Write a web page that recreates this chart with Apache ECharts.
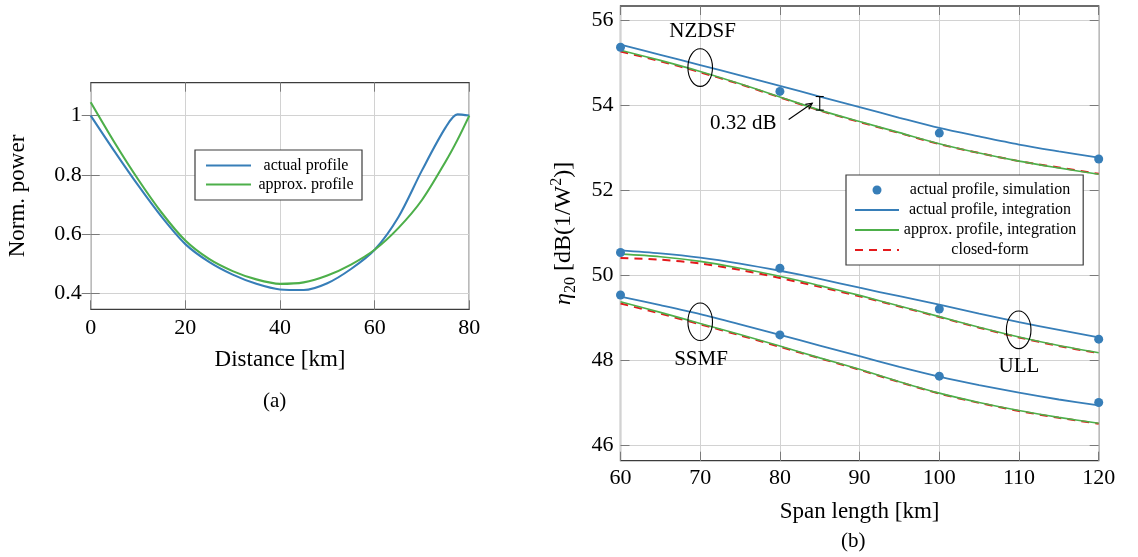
<!DOCTYPE html>
<html><head><meta charset="utf-8">
<script src="https://cdn.jsdelivr.net/npm/echarts@6/dist/echarts.min.js"></script>
<style>html,body{margin:0;padding:0;background:#fff}#c{width:1138px;height:557px}</style>
</head><body><div id="c"></div>
<script>
// ---------- (a) power profile ----------
const distKm        = [0, 5, 10, 15, 20, 25, 30, 35, 40, 45, 50, 55, 60, 65, 70, 75, 77.5, 80];
const actualProfile = [1.000, 0.880, 0.765, 0.658, 0.566, 0.506, 0.463, 0.432, 0.413, 0.411, 0.434, 0.482, 0.547, 0.657, 0.815, 0.960, 1.004, 1.000];
const approxProfile = [1.045, 0.910, 0.785, 0.672, 0.578, 0.516, 0.475, 0.447, 0.432, 0.437, 0.460, 0.497, 0.547, 0.620, 0.715, 0.845, 0.918, 1.000];
const powerTicks = [0.4, 0.6, 0.8, 1];

// ---------- (b) eta20 vs span length ----------
const spanKm = [60, 65, 70, 75, 80, 85, 90, 95, 100, 105, 110, 115, 120];
const simKm  = [60, 80, 100, 120];
const nzdsfActualInt  = [55.42, 55.18, 54.94, 54.70, 54.45, 54.20, 53.95, 53.70, 53.46, 53.26, 53.07, 52.91, 52.76];
const nzdsfApproxInt  = [55.29, 55.05, 54.79, 54.50, 54.19, 53.88, 53.61, 53.35, 53.09, 52.87, 52.68, 52.52, 52.37];
const nzdsfClosedForm = [55.26, 55.03, 54.77, 54.49, 54.18, 53.87, 53.60, 53.34, 53.08, 52.87, 52.68, 52.53, 52.38];
const nzdsfSim        = [55.36, 54.32, 53.34, 52.73];
const ullActualInt    = [50.58, 50.51, 50.41, 50.27, 50.10, 49.91, 49.70, 49.50, 49.30, 49.09, 48.89, 48.71, 48.53];
const ullApproxInt    = [50.49, 50.43, 50.32, 50.16, 49.97, 49.75, 49.52, 49.27, 49.02, 48.77, 48.54, 48.34, 48.17];
const ullClosedForm   = [50.40, 50.36, 50.27, 50.12, 49.93, 49.72, 49.50, 49.26, 49.01, 48.76, 48.53, 48.33, 48.16];
const ullSim          = [50.53, 50.16, 49.20, 48.49];
const ssmfActualInt   = [49.49, 49.29, 49.08, 48.84, 48.59, 48.34, 48.09, 47.84, 47.61, 47.41, 47.23, 47.07, 46.93];
const ssmfApproxInt   = [49.37, 49.12, 48.86, 48.60, 48.33, 48.05, 47.78, 47.49, 47.22, 47.00, 46.81, 46.65, 46.51];
const ssmfClosedForm  = [49.33, 49.09, 48.84, 48.58, 48.31, 48.04, 47.77, 47.48, 47.21, 46.99, 46.80, 46.64, 46.50];
const ssmfSim         = [49.53, 48.59, 47.62, 47.00];
const etaTicks = [46, 48, 50, 52, 54, 56];

// annotations (data coordinates)
const fiberNames     = ['NZDSF', 'SSMF', 'ULL'];
const fiberLabelAt   = [[70.3, 55.72], [70.1, 48.02], [110, 47.84]];
const ellipseAt      = [[70, 54.88], [70, 48.90], [109.96, 48.71]];
const gapNoteText    = '0.32 dB';
const gapNoteAt      = [75.4, 53.57];
const gapArrowFrom   = [81.1, 53.66];
const gapArrowTo     = [84.06, 54.04];
const gapBarKm       = 85;

const FONT = 'Liberation Serif';
const BLUE = '#377eb8', GREEN = '#4daf4a', RED = '#e41a1c';
const zip = (xs, ys) => xs.map((x, i) => [x, ys[i]]);

const chart = echarts.init(document.getElementById('c'), null, {renderer: 'canvas'});

function baseAxis(extra) {
  return Object.assign({
    type: 'value',
    axisLine: {show: false},
    axisTick: {show: true, inside: true, length: 9, lineStyle: {color: '#7a7a7a', width: 1}},
    axisLabel: {show: true, color: '#000', fontFamily: FONT, fontSize: 22},
    splitLine: {show: false}
  }, extra);
}
function tickOnly(extra) {
  const a = baseAxis(extra);
  a.axisLabel = {show: false};
  a.splitLine = {show: false};
  return a;
}
const gridLine = {show: true, lineStyle: {color: '#d2d2d2', width: 1}};

const lineS = (name, xi, yi, data, color, width, extra) => Object.assign({
  type: 'line', name, xAxisIndex: xi, yAxisIndex: yi, data,
  smooth: 0.3, symbol: 'none', showSymbol: false,
  lineStyle: {color, width}, itemStyle: {color}, silent: true
}, extra || {});

const series = [
  lineS('actual profile', 0, 0, zip(distKm, actualProfile), BLUE, 2.1, {z: 3}),
  lineS('approx. profile', 0, 0, zip(distKm, approxProfile), GREEN, 2.1, {z: 4}),
];

const fibers = [
  [nzdsfActualInt, nzdsfApproxInt, nzdsfClosedForm, nzdsfSim],
  [ullActualInt, ullApproxInt, ullClosedForm, ullSim],
  [ssmfActualInt, ssmfApproxInt, ssmfClosedForm, ssmfSim]
];
fibers.forEach(f => {
  series.push(lineS('actual profile, integration', 2, 2, zip(spanKm, f[0]), BLUE, 1.8, {z: 3}));
  series.push(lineS('closed-form', 2, 2, zip(spanKm, f[2]), RED, 2, {z: 4, lineStyle: {color: RED, width: 2, type: [8, 6]}}));
  series.push(lineS('approx. profile, integration', 2, 2, zip(spanKm, f[1]), GREEN, 1.6, {z: 5}));
});
fibers.forEach(f => {
  series.push({type: 'scatter', name: 'actual profile, simulation', xAxisIndex: 2, yAxisIndex: 2,
    data: zip(simKm, f[3]), symbol: 'circle', symbolSize: 9, symbolKeepAspect: true,
    itemStyle: {color: BLUE, opacity: 1}, z: 10, silent: true});
});

// ellipses
series.push({type: 'custom', name: 'ellipses', xAxisIndex: 2, yAxisIndex: 2, z: 12, silent: true,
  data: ellipseAt,
  renderItem: (params, api) => {
    const p = api.coord([api.value(0), api.value(1)]);
    return {type: 'ellipse', shape: {cx: p[0], cy: p[1], rx: 12.3, ry: 18.8},
      style: {fill: 'none', stroke: '#000', lineWidth: 1.1}};
  }});
// fiber labels
series.push({type: 'custom', name: 'fiberLabels', xAxisIndex: 2, yAxisIndex: 2, z: 12, silent: true,
  data: fiberLabelAt,
  renderItem: (params, api) => {
    const p = api.coord([api.value(0), api.value(1)]);
    return {type: 'text', x: p[0], y: p[1],
      style: {text: fiberNames[params.dataIndex], fontFamily: FONT, fontSize: 21, fill: '#000', align: 'center', verticalAlign: 'middle'}};
  }});
// 0.32 dB note
const barIdx = spanKm.indexOf(gapBarKm);
series.push({type: 'custom', name: 'gapNote', xAxisIndex: 2, yAxisIndex: 2, z: 12, silent: true,
  data: [gapNoteAt],
  renderItem: (params, api) => {
    const t = api.coord(gapNoteAt);
    const a0 = api.coord(gapArrowFrom), a1 = api.coord(gapArrowTo);
    const b0 = api.coord([gapBarKm, nzdsfActualInt[barIdx]]), b1 = api.coord([gapBarKm, nzdsfApproxInt[barIdx]]);
    const ang = Math.atan2(a1[1] - a0[1], a1[0] - a0[0]);
    const hl = 7, hw = 0.45;
    const h1 = [a1[0] - hl * Math.cos(ang - hw), a1[1] - hl * Math.sin(ang - hw)];
    const h2 = [a1[0] - hl * Math.cos(ang + hw), a1[1] - hl * Math.sin(ang + hw)];
    const st = {stroke: '#000', lineWidth: 1.1, fill: 'none'};
    return {type: 'group', children: [
      {type: 'text', x: t[0], y: t[1], style: {text: gapNoteText, fontFamily: FONT, fontSize: 21, fill: '#000', align: 'center', verticalAlign: 'middle'}},
      {type: 'line', shape: {x1: a0[0], y1: a0[1], x2: a1[0], y2: a1[1]}, style: st},
      {type: 'polyline', shape: {points: [h1, a1, h2]}, style: st},
      {type: 'line', shape: {x1: b0[0], y1: b0[1], x2: b1[0], y2: b1[1]}, style: st},
      {type: 'line', shape: {x1: b0[0] - 4, y1: b0[1], x2: b0[0] + 4, y2: b0[1]}, style: st},
      {type: 'line', shape: {x1: b1[0] - 4, y1: b1[1], x2: b1[0] + 4, y2: b1[1]}, style: st}
    ]};
  }});

const legendText = (w, h) => ({
  color: '#000', fontFamily: FONT, fontSize: 16, lineHeight: h,
  rich: {t: {width: w, height: h, align: 'center', fontFamily: FONT, fontSize: 16, lineHeight: h, color: '#000'}}
});

const option = {
  animation: false,
  backgroundColor: '#fff',
  textStyle: {fontFamily: FONT},
  grid: [
    {left: 90.7, top: 82.7, width: 378.6, height: 226.6, show: true, borderColor: '#3c3c3c', borderWidth: 1.3, backgroundColor: 'rgba(0,0,0,0)', containLabel: false, outerBoundsMode: 'none'},
    {left: 620.5, top: 6, width: 478.2, height: 454.7, show: true, borderColor: '#3c3c3c', borderWidth: 1.3, backgroundColor: 'rgba(0,0,0,0)', containLabel: false, outerBoundsMode: 'none'}
  ],
  xAxis: [
    baseAxis({gridIndex: 0, position: 'bottom', min: 0, max: 80, interval: 20, splitLine: gridLine,
      axisLabel: {show: true, color: '#000', fontFamily: FONT, fontSize: 22, margin: 8},
      name: 'Distance [km]', nameLocation: 'middle', nameGap: 39,
      nameTextStyle: {color: '#000', fontFamily: FONT, fontSize: 23}}),
    tickOnly({gridIndex: 0, position: 'top', min: 0, max: 80, interval: 20}),
    baseAxis({gridIndex: 1, position: 'bottom', min: 60, max: 120, interval: 10, splitLine: gridLine,
      axisLabel: {show: true, color: '#000', fontFamily: FONT, fontSize: 22, margin: 7},
      name: 'Span length [km]', nameLocation: 'middle', nameGap: 40,
      nameTextStyle: {color: '#000', fontFamily: FONT, fontSize: 23}}),
    tickOnly({gridIndex: 1, position: 'top', min: 60, max: 120, interval: 10})
  ],
  yAxis: [
    baseAxis({gridIndex: 0, position: 'left', min: 0.346, max: 1.111, splitLine: gridLine,
      axisTick: {show: true, inside: true, length: 9, customValues: powerTicks, lineStyle: {color: '#7a7a7a', width: 1}},
      axisLabel: {show: true, color: '#000', fontFamily: FONT, fontSize: 22, margin: 9, customValues: powerTicks},
      name: 'Norm. power', nameLocation: 'middle', nameRotate: 90, nameGap: 61,
      nameTextStyle: {color: '#000', fontFamily: FONT, fontSize: 23}}),
    tickOnly({gridIndex: 0, position: 'right', min: 0.346, max: 1.111,
      axisTick: {show: true, inside: true, length: 9, customValues: powerTicks, lineStyle: {color: '#7a7a7a', width: 1}}}),
    baseAxis({gridIndex: 1, position: 'left', min: 45.63, max: 56.33, splitLine: gridLine,
      axisTick: {show: true, inside: true, length: 9, customValues: etaTicks, lineStyle: {color: '#7a7a7a', width: 1}},
      axisLabel: {show: true, color: '#000', fontFamily: FONT, fontSize: 22, margin: 7, customValues: etaTicks},
      name: '{eta|η}{sub|20} {m|[dB(1/W}{sup|2}{m|)]}', nameLocation: 'middle', nameRotate: 90, nameGap: 42,
      nameTextStyle: {color: '#000', fontFamily: FONT, fontSize: 24,
        rich: {
          eta: {fontFamily: FONT, fontStyle: 'italic', fontSize: 24, lineHeight: 30, verticalAlign: 'middle', color: '#000'},
          sub: {fontFamily: FONT, fontSize: 16, lineHeight: 30, verticalAlign: 'bottom', color: '#000'},
          m: {fontFamily: FONT, fontSize: 24, lineHeight: 30, verticalAlign: 'middle', color: '#000'},
          sup: {fontFamily: FONT, fontSize: 16, lineHeight: 30, verticalAlign: 'top', color: '#000'}
        }}}),
    tickOnly({gridIndex: 1, position: 'right', min: 45.63, max: 56.33,
      axisTick: {show: true, inside: true, length: 9, customValues: etaTicks, lineStyle: {color: '#7a7a7a', width: 1}}})
  ],
  legend: [
    {orient: 'vertical', left: 195, top: 150, padding: [6, 6, 6, 10], itemWidth: 45, itemHeight: 9, itemGap: 0,
      borderColor: '#3c3c3c', borderWidth: 1.2, backgroundColor: '#fff', selectedMode: false,
      itemStyle: {opacity: 0},
      data: ['actual profile', 'approx. profile'],
      formatter: n => '{t|' + n + '}', textStyle: legendText(100, 19)},
    {orient: 'vertical', left: 846, top: 175, padding: [5, 7, 5, 8], itemWidth: 44, itemHeight: 9, itemGap: 0,
      borderColor: '#3c3c3c', borderWidth: 1.2, backgroundColor: '#fff', selectedMode: false,
      itemStyle: {opacity: 0},
      data: [{name: 'actual profile, simulation', icon: 'circle', itemStyle: {opacity: 1, color: BLUE}},
             'actual profile, integration', 'approx. profile, integration', 'closed-form'],
      formatter: n => '{t|' + n + '}', textStyle: legendText(172, 20)}
  ],
  graphic: [
    {type: 'text', left: 263, top: 391, style: {text: '(a)', fontFamily: FONT, fontSize: 21, fill: '#000'}},
    {type: 'text', left: 841, top: 531, style: {text: '(b)', fontFamily: FONT, fontSize: 21, fill: '#000'}}
  ],
  series
};
chart.setOption(option);
</script></body></html>
